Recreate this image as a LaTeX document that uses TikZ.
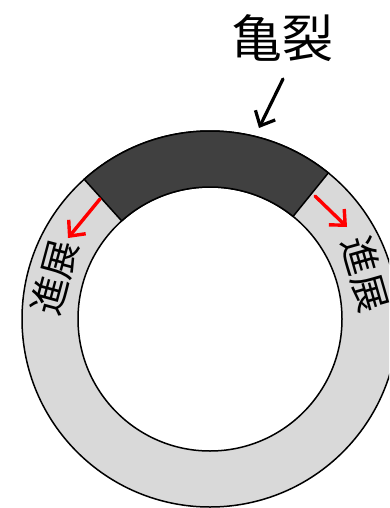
\documentclass[tikz,border=0pt]{standalone}
\usepackage{fontspec}
\newfontfamily\jpfont{Noto Sans CJK JP}
\usetikzlibrary{arrows.meta}
\definecolor{crackgray}{HTML}{404040}
\definecolor{ringgray}{HTML}{D9D9D9}
\tikzset{
  ringline/.style ={draw=black,line width=1.5pt},
  crackzone/.style={draw=black,line width=1.5pt,fill=crackgray},
  growarrow/.style={-{Straight Barb[length=12pt,width=22pt]},line width=3.4pt,draw=red,line cap=round},
  pointer/.style  ={-{Straight Barb[length=12pt,width=22pt]},line width=3.2pt,draw=black,line cap=round},
  titletext/.style={font=\jpfont\fontsize{51}{51}\selectfont,inner sep=0pt},
  ringtext/.style ={font=\jpfont\fontsize{38}{38}\selectfont,inner sep=0pt}
}

\begin{document}
\begin{tikzpicture}[x=1pt,y=1pt]
    \useasboundingbox (0,0) rectangle (389,-508);
    \clip (0,0) rectangle (389,-508);
    \coordinate (c) at (210,-319);
    % ring
    \fill[ringgray,even odd rule] (c) circle (188pt) (c) circle (132pt);
    \draw[ringline] (c) circle (188pt);
    \draw[ringline] (c) circle (132pt);
    % crack zone
    \path[crackzone] ([shift={(c)}]51:188pt) arc[start angle=51,end angle=132,radius=188pt]
        -- ([shift={(c)}]132:132pt) arc[start angle=132,end angle=51,radius=132pt] -- cycle;
    % labels
    \node[titletext] (crack) at (282,-38) {亀裂};
    \node[ringtext,rotate=75] (growl) at ([shift={(c)}]165:161pt) {進展};
    \node[ringtext,rotate=-74] (growr) at ([shift={(c)}]16:162pt) {進展};
    \coordinate (pstart) at (283,-79);
    \coordinate (ptip) at (259,-128);
    \coordinate (lstart) at (100,-199);
    \coordinate (ltip) at (68,-238);
    \coordinate (rstart) at (315,-196);
    \coordinate (rtip) at (347,-227);
    \draw[pointer] (pstart) -- (ptip);
    \draw[growarrow] (lstart) -- (ltip);
    \draw[growarrow] (rstart) -- (rtip);
\end{tikzpicture}
\end{document}
